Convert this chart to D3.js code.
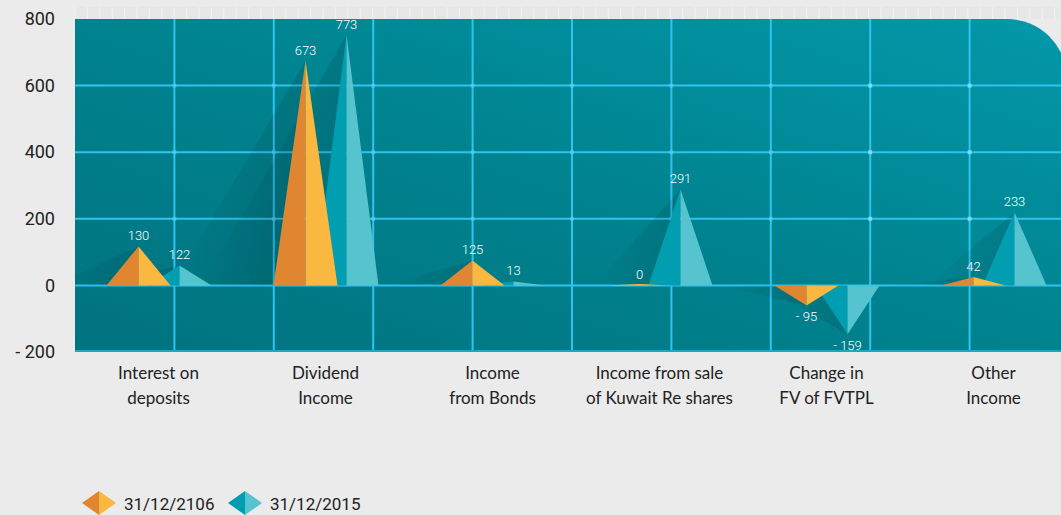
<!DOCTYPE html>
<html>
<head>
<meta charset="utf-8">
<script src="https://cdn.jsdelivr.net/npm/d3@7"></script>
<style>
  body { margin: 0; background: #ebebeb; }
  svg { display: block; }
</style>
</head>
<body>
<div id="chart"></div>
<script>
// ---- data ----
const categories = [
  ['Interest on', 'deposits'],
  ['Dividend', 'Income'],
  ['Income', 'from Bonds'],
  ['Income from sale', 'of Kuwait Re shares'],
  ['Change in', 'FV of FVTPL'],
  ['Other', 'Income']
];
const seriesNames = ['31/12/2106', '31/12/2015'];
// printed labels
const labels2016 = ['130', '673', '125', '0', '- 95', '42'];
const labels2015 = ['122', '773', '13', '291', '- 159', '233'];
// peak heights as drawn in the picture
const values2016 = [117, 675, 75, 0, -60, 25];
const values2015 = [60, 753, 12, 288, -147, 219];
const yTicks = [-200, 0, 200, 400, 600, 800];

// ---- layout ----
const W = 1061, H = 515;
const plot = { left: 75, right: 1067, top: 19, bottom: 352, radius: 60 };
const colors = {
  orange: { dark: '#e08530', light: '#fbb840' },
  teal: { dark: '#009eb0', light: '#55c4cf' },
  grid: '#2ec3f0',
  text: '#222222'
};

const svg = d3.select('#chart').append('svg')
  .attr('width', W)
  .attr('height', H);

const defs = svg.append('defs');

const bg = defs.append('linearGradient')
  .attr('id', 'bgGrad')
  .attr('x1', 0).attr('y1', 1).attr('x2', 1).attr('y2', 0);
bg.append('stop').attr('offset', 0).attr('stop-color', '#00737f');
bg.append('stop').attr('offset', 0.5).attr('stop-color', '#00838f');
bg.append('stop').attr('offset', 1).attr('stop-color', '#0398aa');

const sh = defs.append('linearGradient')
  .attr('id', 'shadowGrad')
  .attr('x1', 0).attr('y1', 0).attr('x2', 1).attr('y2', 0);
sh.append('stop').attr('offset', 0).attr('stop-color', '#000').attr('stop-opacity', 0);
sh.append('stop').attr('offset', 1).attr('stop-color', '#000').attr('stop-opacity', 0.12);

// plot shape with rounded top-right corner
const r = plot.radius;
const plotPath = `M${plot.left},${plot.top} H${plot.right - r} A${r},${r} 0 0 1 ${plot.right},${plot.top + r} V${plot.bottom} H${plot.left} Z`;

defs.append('clipPath').attr('id', 'plotClip')
  .append('path').attr('d', plotPath);

// faint strip above plot
const strip = svg.append('g');
strip.append('rect')
  .attr('x', plot.left).attr('y', 7)
  .attr('width', W - plot.left).attr('height', 12)
  .attr('fill', '#e7e7e7');
strip.selectAll('line')
  .data(d3.range(plot.left, W, 12.4))
  .join('line')
  .attr('x1', d => d).attr('x2', d => d)
  .attr('y1', 7).attr('y2', 19)
  .attr('stroke', '#f3f3f3')
  .attr('stroke-width', 1);

svg.append('path')
  .attr('d', plotPath)
  .attr('fill', 'url(#bgGrad)');

// ---- scales ----
const y = d3.scaleLinear()
  .domain([-200, 800])
  .range([plot.bottom, plot.top]);

const x = d3.scaleBand()
  .domain(d3.range(categories.length))
  .range([plot.left, 1077]);

const y0 = y(0);
const halfW = 32;
const offsets = [-20, 21];

const g = svg.append('g').attr('clip-path', 'url(#plotClip)');

// grid
const gridStep = 99.4;
const gridX = d3.range(1, 10).map(k => plot.left + k * gridStep);

g.selectAll('.vgrid')
  .data(gridX)
  .join('line')
  .attr('class', 'vgrid')
  .attr('x1', d => d).attr('x2', d => d)
  .attr('y1', plot.top).attr('y2', plot.bottom)
  .attr('stroke', colors.grid)
  .attr('stroke-width', 2);

g.selectAll('.hgrid')
  .data(yTicks.slice(1, -1))
  .join('line')
  .attr('class', 'hgrid')
  .attr('x1', plot.left).attr('x2', W)
  .attr('y1', d => y(d)).attr('y2', d => y(d))
  .attr('stroke', colors.grid)
  .attr('stroke-width', 2);

// little light squares on grid crossings
const crossings = [];
gridX.forEach(gx => yTicks.slice(2, -1).forEach(t => crossings.push([gx, y(t)])));
g.selectAll('.dot')
  .data(crossings)
  .join('rect')
  .attr('class', 'dot')
  .attr('x', d => d[0] - 2).attr('y', d => d[1] - 2)
  .attr('width', 4).attr('height', 4)
  .attr('fill', '#b8ecfa')
  .attr('opacity', d => d[0] > 800 ? 0.6 : 0.25);

// bottom edge line
g.append('line')
  .attr('x1', plot.left).attr('x2', W)
  .attr('y1', plot.bottom - 1).attr('y2', plot.bottom - 1)
  .attr('stroke', '#19a9c4')
  .attr('stroke-width', 2);

// ---- pyramids ----
const series = [
  { name: seriesNames[0], values: values2016, labels: labels2016, color: colors.orange, offset: offsets[0] },
  { name: seriesNames[1], values: values2015, labels: labels2015, color: colors.teal, offset: offsets[1] }
];

const marks = series.flatMap((s, si) => s.values.map((v, i) => ({
  si,
  v,
  label: s.labels[i],
  color: s.color,
  px: x(i) + x.bandwidth() / 2 + s.offset,
  py: y(v)
})));

// soft shadows behind everything
g.selectAll('.shadow')
  .data(marks.filter(d => d.v !== 0))
  .join('path')
  .attr('class', 'shadow')
  .attr('d', d => {
    const h = Math.abs(y0 - d.py);
    const far = Math.max(55, h * 0.45);
    return `M${d.px},${d.py} L${d.px - halfW},${y0} L${d.px - halfW - far},${y0} Z`;
  })
  .attr('fill', 'url(#shadowGrad)');

// draw teal first, orange in front
const order = [1, 0];
order.forEach(si => {
  const data = marks.filter(d => d.si === si);
  const grp = g.append('g');
  grp.selectAll('.left')
    .data(data)
    .join('path')
    .attr('d', d => `M${d.px - halfW},${y0} L${d.px},${d.py} L${d.px},${y0} Z`)
    .attr('fill', d => d.color.dark);
  grp.selectAll('.right')
    .data(data)
    .join('path')
    .attr('d', d => `M${d.px},${y0} L${d.px},${d.py} L${d.px + halfW},${y0} Z`)
    .attr('fill', d => d.color.light);
  // thin sliver for zero values
  grp.selectAll('.zero')
    .data(data.filter(d => d.v === 0))
    .join('path')
    .attr('d', d => `M${d.px - halfW},${y0} L${d.px},${y0 - 1.5} L${d.px + halfW},${y0} Z`)
    .attr('fill', d => d.color.light);
});

// value labels
svg.append('g')
  .selectAll('text')
  .data(marks)
  .join('text')
  .attr('x', d => d.px)
  .attr('y', d => d.v < 0 ? d.py + 16 : d.py - 6)
  .attr('text-anchor', 'middle')
  .attr('fill', '#ffffff')
  .style('font-family', 'Roboto, sans-serif')
  .style('font-weight', 300)
  .style('font-size', '13px')
  .text(d => d.label);

// ---- y axis ----
const yAxis = svg.append('g')
  .attr('transform', `translate(58,0)`)
  .call(d3.axisLeft(y)
    .tickValues(yTicks)
    .tickSize(0)
    .tickPadding(3)
    .tickFormat(d => d < 0 ? '- ' + Math.abs(d) : d));
yAxis.select('.domain').remove();
yAxis.selectAll('text')
  .attr('fill', colors.text)
  .style('font-family', 'Roboto, sans-serif')
  .style('font-size', '18px');

// ---- category labels ----
const cat = svg.append('g')
  .selectAll('text')
  .data(categories)
  .join('text')
  .attr('text-anchor', 'middle')
  .attr('fill', colors.text)
  .style('font-family', 'Lato, sans-serif')
  .style('font-size', '17px');
cat.selectAll('tspan')
  .data((d, i) => d.map(line => ({ line, i })))
  .join('tspan')
  .attr('x', d => x(d.i) + x.bandwidth() / 2)
  .attr('y', (d, j) => 379 + j * 25)
  .text(d => d.line);

// ---- legend ----
const legend = svg.append('g');
const legendX = [99, 245];
series.forEach((s, i) => {
  const cx = legendX[i], cy = 503;
  legend.append('path')
    .attr('d', `M${cx - 17},${cy} L${cx},${cy - 12} L${cx},${cy + 12} Z`)
    .attr('fill', s.color.dark);
  legend.append('path')
    .attr('d', `M${cx},${cy - 12} L${cx + 17},${cy} L${cx},${cy + 12} Z`)
    .attr('fill', s.color.light);
  legend.append('text')
    .attr('x', cx + 25)
    .attr('y', cy + 7)
    .attr('fill', colors.text)
    .style('font-family', 'Roboto, sans-serif')
    .style('font-size', '17px')
    .text(s.name);
});
</script>
</body>
</html>
